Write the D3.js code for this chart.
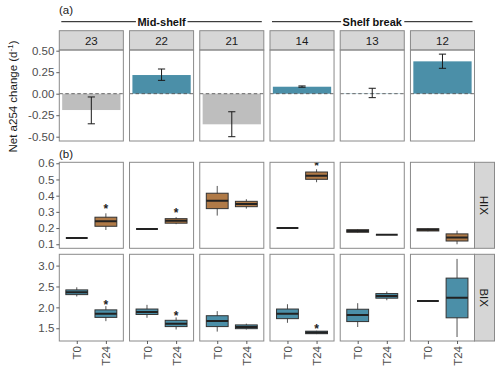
<!DOCTYPE html>
<html>
<head>
<meta charset="utf-8">
<script src="https://cdn.jsdelivr.net/npm/d3@7"></script>
<style>
  body { margin: 0; background: #fff; }
  svg { display: block; font-family: "Liberation Sans", Arial, sans-serif; }
</style>
</head>
<body>
<svg id="chart" width="500" height="368"></svg>
<script>
// stations (facets), left to right
const stations = ["23", "22", "21", "14", "13", "12"];
const groupNames = ["Mid-shelf", "Shelf break"];
const groupFirst = ["23", "14"];
const groupLast = ["21", "12"];

// (a) net a254 change, mean and error bar ends
const netChange = [-0.19, 0.217, -0.356, 0.081, 0.003, 0.376];
const errLow = [-0.35, 0.155, -0.50, 0.075, -0.046, 0.295];
const errHigh = [-0.038, 0.287, -0.21, 0.09, 0.063, 0.46];
const netTicks = [-0.50, -0.25, 0.00, 0.25, 0.50];

// (b) boxplots: [lower whisker, q1, median, q3, upper whisker]
const times = ["T0", "T24"];
const hixT0 = [
  [0.139, 0.139, 0.139, 0.139, 0.139],
  [0.194, 0.194, 0.194, 0.194, 0.194],
  [0.277, 0.32, 0.369, 0.415, 0.46],
  [0.2, 0.2, 0.2, 0.2, 0.2],
  [0.172, 0.174, 0.182, 0.19, 0.193],
  [0.18, 0.182, 0.19, 0.196, 0.198]
];
const hixT24 = [
  [0.188, 0.211, 0.242, 0.267, 0.291],
  [0.224, 0.23, 0.245, 0.258, 0.267],
  [0.32, 0.332, 0.349, 0.365, 0.378],
  [0.483, 0.501, 0.523, 0.546, 0.563],
  [0.159, 0.159, 0.159, 0.159, 0.159],
  [0.1, 0.12, 0.141, 0.164, 0.184]
];
const bixT0 = [
  [2.26, 2.305, 2.36, 2.418, 2.48],
  [1.75, 1.83, 1.89, 1.96, 2.06],
  [1.42, 1.54, 1.675, 1.80, 1.91],
  [1.63, 1.73, 1.85, 1.96, 2.075],
  [1.53, 1.66, 1.82, 1.955, 2.10],
  [2.15, 2.15, 2.15, 2.15, 2.15]
];
const bixT24 = [
  [1.67, 1.76, 1.85, 1.94, 2.03],
  [1.47, 1.54, 1.61, 1.69, 1.76],
  [1.47, 1.49, 1.53, 1.58, 1.61],
  [1.36, 1.37, 1.40, 1.43, 1.44],
  [2.17, 2.22, 2.27, 2.33, 2.38],
  [1.29, 1.75, 2.23, 2.70, 3.16]
];
// significance stars on T24 (value where the star sits, null = none)
const hixStars = [0.335, 0.312, null, 0.604, null, null];
const bixStars = [2.118, 1.874, null, 1.562, null, null];
const hixTicks = [0.1, 0.2, 0.3, 0.4, 0.5, 0.6];
const bixTicks = [1.5, 2.0, 2.5, 3.0];

const teal = "#4b8fa8";
const brown = "#b07a47";
const grayBar = "#bebebe";
const borderCol = "#8a8a8a";
const stripFill = "#d6d6d6";

const svg = d3.select("#chart");

// facet columns
const xFacet = d3.scaleBand().domain(stations).range([59.3, 474.5]).paddingInner(0.088);
const bw = xFacet.bandwidth();
const xTime = d3.scalePoint().domain(times).range([0, bw]).padding(0.6);
const boxW = xTime.step() * 0.75;

const yA = d3.scaleLinear().domain([-0.55, 0.508]).range([141, 50]);
const rows = [
  { name: "HIX", y: d3.scaleLinear().domain([0.075, 0.606]).range([248.3, 162.3]),
    t0: hixT0, t24: hixT24, stars: hixStars, ticks: hixTicks, fill: brown },
  { name: "BIX", y: d3.scaleLinear().domain([1.195, 3.27]).range([341, 254.3]),
    t0: bixT0, t24: bixT24, stars: bixStars, ticks: bixTicks, fill: teal }
];

const defs = svg.append("defs");

// ---------- panel (a) ----------
svg.append("text").attr("x", 59).attr("y", 14)
  .attr("font-size", 11.5).attr("fill", "#1a1a1a").text("(a)");
svg.append("text").attr("x", 59).attr("y", 157.5)
  .attr("font-size", 11.5).attr("fill", "#1a1a1a").text("(b)");

// group headers
groupNames.forEach((g, i) => {
  const x0 = xFacet(groupFirst[i]) + 2;
  const x1 = xFacet(groupLast[i]) + bw - 2;
  svg.append("line").attr("x1", x0).attr("x2", x1)
    .attr("y1", 21.7).attr("y2", 21.7)
    .attr("stroke", "#111").attr("stroke-width", 1);
  const t = svg.append("text").attr("x", (x0 + x1) / 2).attr("y", 21.7)
    .attr("dy", "0.35em").attr("text-anchor", "middle")
    .attr("font-size", 11).attr("font-weight", "bold").attr("fill", "#111").text(g);
  const bb = t.node().getBBox();
  svg.insert("rect", "text:last-of-type")
    .attr("x", bb.x - 1.5).attr("y", 17).attr("width", bb.width + 3).attr("height", 9)
    .attr("fill", "#fff");
  t.raise();
});

const panelA = svg.append("g");
stations.forEach((s, i) => {
  const x0 = xFacet(s);
  const g = panelA.append("g");
  // strip
  g.append("rect").attr("x", x0).attr("y", 30.7).attr("width", bw).attr("height", 19.3)
    .attr("fill", stripFill).attr("stroke", borderCol).attr("stroke-width", 1);
  g.append("text").attr("x", x0 + bw / 2).attr("y", 40.5).attr("dy", "0.35em")
    .attr("text-anchor", "middle").attr("font-size", 11.5).attr("fill", "#1a1a1a").text(s);
  // bar
  const v = netChange[i];
  g.append("rect").attr("x", x0 + bw * 0.045).attr("width", bw * 0.91)
    .attr("y", yA(Math.max(0, v))).attr("height", Math.abs(yA(v) - yA(0)))
    .attr("fill", v >= 0 ? teal : grayBar);
  // zero line
  g.append("line").attr("x1", x0).attr("x2", x0 + bw).attr("y1", yA(0)).attr("y2", yA(0))
    .attr("stroke", "#444").attr("stroke-width", 0.8).attr("stroke-dasharray", "3.5,2.5");
  // error bar
  const cx = x0 + bw / 2;
  g.append("line").attr("x1", cx).attr("x2", cx).attr("y1", yA(errLow[i])).attr("y2", yA(errHigh[i]))
    .attr("stroke", "#1a1a1a").attr("stroke-width", 1);
  [errLow[i], errHigh[i]].forEach(e => {
    g.append("line").attr("x1", cx - 3.6).attr("x2", cx + 3.6).attr("y1", yA(e)).attr("y2", yA(e))
      .attr("stroke", "#1a1a1a").attr("stroke-width", 1);
  });
  // border
  g.append("rect").attr("x", x0).attr("y", 50).attr("width", bw).attr("height", 91)
    .attr("fill", "none").attr("stroke", borderCol).attr("stroke-width", 1);
});

function styleAxis(g) {
  g.select(".domain").remove();
  g.selectAll(".tick line").attr("stroke", "#333").attr("stroke-width", 0.8);
  g.selectAll(".tick text").attr("fill", "#4d4d4d").attr("font-size", 11.5)
    .attr("font-family", "Liberation Sans, Arial, sans-serif");
}

svg.append("g").attr("transform", `translate(${xFacet(stations[0])},0)`)
  .call(d3.axisLeft(yA).tickValues(netTicks).tickSize(3).tickPadding(2).tickFormat(d => d.toFixed(2)))
  .call(styleAxis);

// y title
svg.append("text").attr("transform", "translate(17,96.5) rotate(-90)")
  .attr("text-anchor", "middle").attr("font-size", 11.5).attr("fill", "#1a1a1a")
  .call(t => {
    t.append("tspan").text("Net a254 change (d");
    t.append("tspan").attr("font-size", 8).attr("dy", -4.5).text("-1");
    t.append("tspan").attr("dy", 4.5).text(")");
  });

// ---------- panel (b) ----------
function drawBox(g, cx, q, y, fill) {
  g.append("line").attr("x1", cx).attr("x2", cx).attr("y1", y(q[0])).attr("y2", y(q[4]))
    .attr("stroke", "#555").attr("stroke-width", 1);
  g.append("rect").attr("x", cx - boxW / 2).attr("width", boxW)
    .attr("y", y(q[3])).attr("height", Math.max(0, y(q[1]) - y(q[3])))
    .attr("fill", fill).attr("stroke", "#333").attr("stroke-width", 1);
  g.append("line").attr("x1", cx - boxW / 2).attr("x2", cx + boxW / 2)
    .attr("y1", y(q[2])).attr("y2", y(q[2]))
    .attr("stroke", "#222").attr("stroke-width", 2);
}

rows.forEach((r, ri) => {
  const [yBot, yTop] = r.y.range();
  stations.forEach((s, i) => {
    const x0 = xFacet(s);
    const id = `clip-${r.name}-${s}`;
    defs.append("clipPath").attr("id", id).append("rect")
      .attr("x", x0).attr("y", yTop).attr("width", bw).attr("height", yBot - yTop);
    const g = svg.append("g").attr("clip-path", `url(#${id})`);
    drawBox(g, x0 + xTime("T0"), r.t0[i], r.y, r.fill);
    drawBox(g, x0 + xTime("T24"), r.t24[i], r.y, r.fill);
    if (r.stars[i] !== null) {
      g.append("text").attr("x", x0 + xTime("T24")).attr("y", r.y(r.stars[i]) + 6.9)
        .attr("text-anchor", "middle").attr("font-size", 12).attr("font-weight", "bold")
        .attr("fill", "#222").text("*");
    }
    svg.append("rect").attr("x", x0).attr("y", yTop).attr("width", bw).attr("height", yBot - yTop)
      .attr("fill", "none").attr("stroke", borderCol).attr("stroke-width", 1);
  });
  // right strip
  const sx = xFacet(stations[stations.length - 1]) + bw;
  svg.append("rect").attr("x", sx).attr("y", yTop).attr("width", 20).attr("height", yBot - yTop)
    .attr("fill", stripFill).attr("stroke", borderCol).attr("stroke-width", 1);
  svg.append("text").attr("transform", `translate(${sx + 10},${(yTop + yBot) / 2}) rotate(90)`)
    .attr("text-anchor", "middle").attr("dy", "0.35em").attr("font-size", 11.5)
    .attr("fill", "#1a1a1a").text(r.name);
  // y axis
  svg.append("g").attr("transform", `translate(${xFacet(stations[0])},0)`)
    .call(d3.axisLeft(r.y).tickValues(r.ticks).tickSize(3).tickPadding(2).tickFormat(d3.format(".1f")))
    .call(styleAxis);
});

// x axes under the bottom row
const yBottom = rows[1].y.range()[0];
stations.forEach(s => {
  const ax = svg.append("g").attr("transform", `translate(${xFacet(s)},${yBottom})`)
    .call(d3.axisBottom(xTime).tickSize(3).tickPadding(2))
    .call(styleAxis);
  ax.selectAll(".tick text")
    .attr("transform", "rotate(-90)")
    .attr("text-anchor", "end")
    .attr("x", -5).attr("y", 0).attr("dy", "0.35em");
});
</script>
</body>
</html>
